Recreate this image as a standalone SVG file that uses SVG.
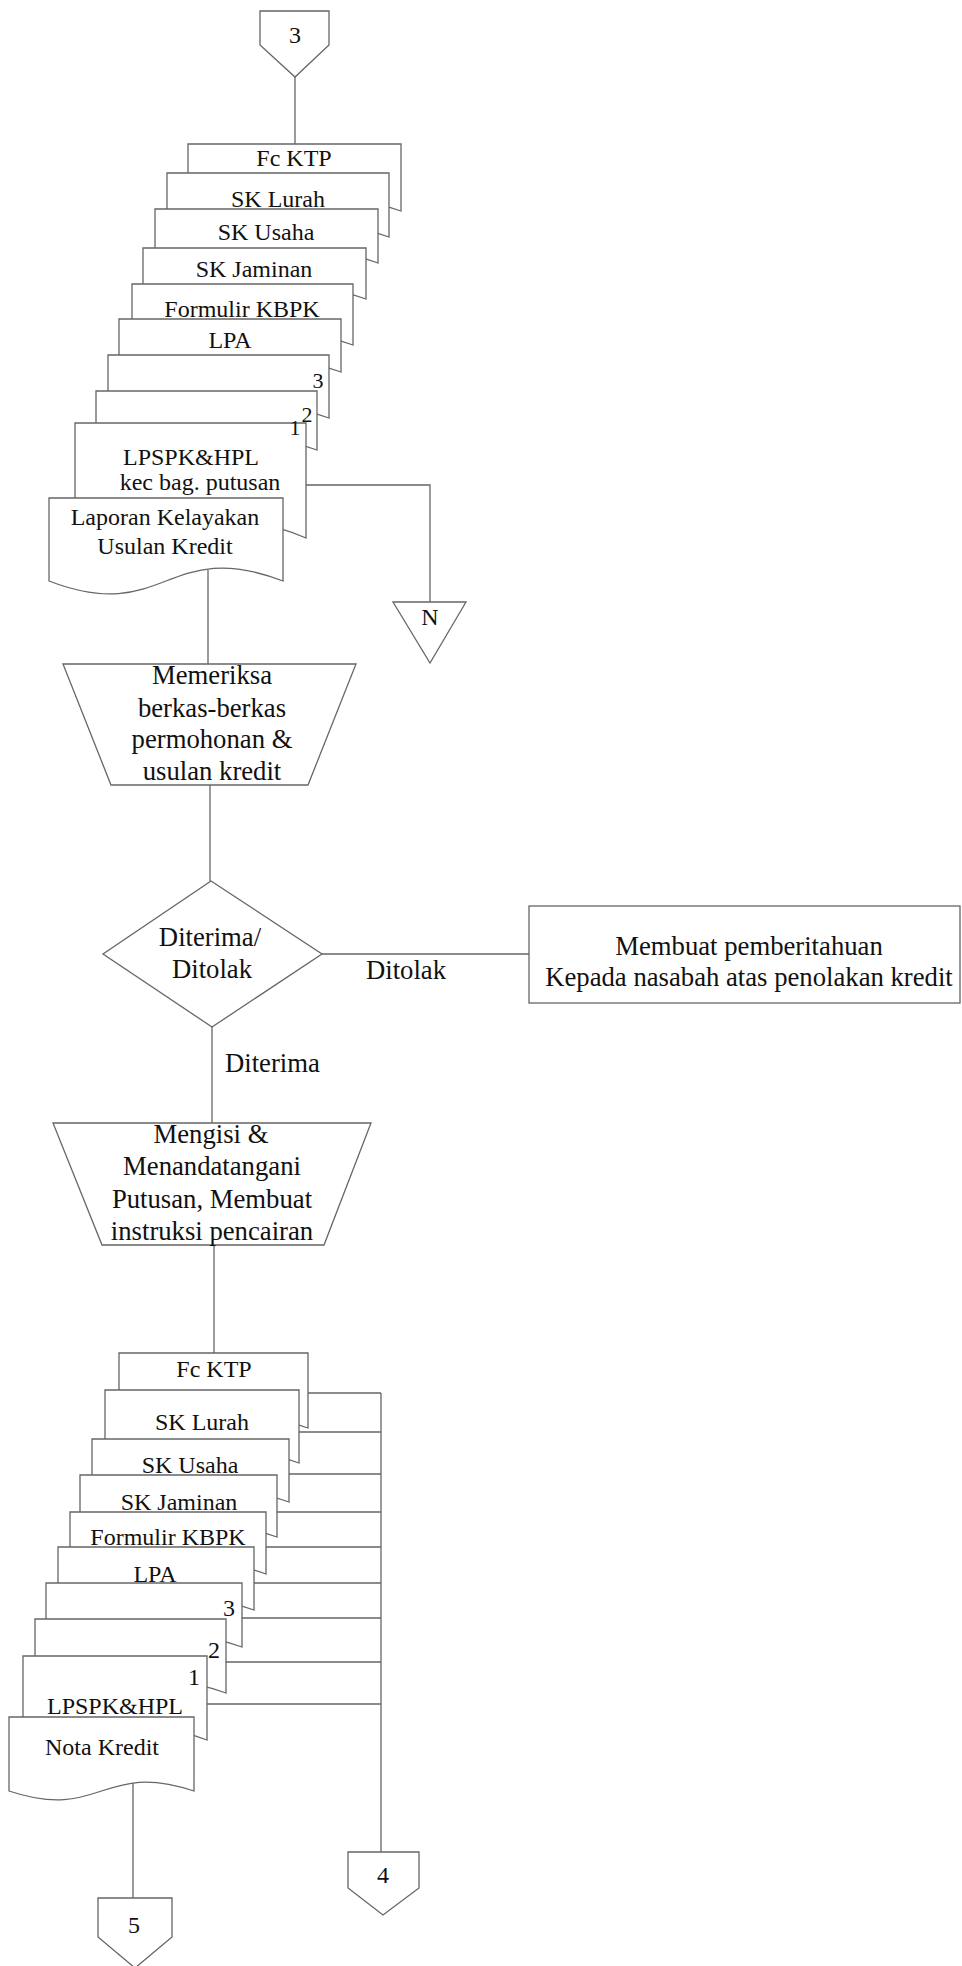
<svg xmlns="http://www.w3.org/2000/svg" width="962" height="1966" viewBox="0 0 962 1966">
<style>
.s{fill:#fff;stroke:#666;stroke-width:1.3}
.c{fill:none;stroke:#666;stroke-width:1.3}
text{font-family:"Liberation Serif","Times New Roman",serif;fill:#111;text-anchor:middle}
.d{font-size:24px}
.p{font-size:26.7px}
.n{font-size:22px}
</style>
<rect width="962" height="1966" fill="#fff"/>
<g id="connectors">
<path class="c" d="M295,77 V144"/>
<path class="c" d="M306,485 H430 V602"/>
<path class="c" d="M208,570 V664"/>
<path class="c" d="M210,785 V881"/>
<path class="c" d="M322,954 H529"/>
<path class="c" d="M212,1027 V1123"/>
<path class="c" d="M214,1245 V1353"/>
<path class="c" d="M308,1393 H381 M299,1432 H381 M289,1474 H381 M277,1512 H381 M266,1547 H381 M254,1583 H381 M242,1618 H381 M226,1662 H381 M207,1704 H381 M381,1393 V1852"/>
<path class="c" d="M133,1782 V1898"/>
<text class="p" x="406" y="979">Ditolak</text>
<text class="p" x="225" y="1072" style="text-anchor:start">Diterima</text>
</g>
<g id="conn3"><path class="s" d="M260,11 H329 V45 L295,77 L260,45 Z"/><text class="d" x="295" y="43">3</text></g>
<g id="stack1">
<g id="s1-fcktp"><path class="s" d="M188,144 H401 V211 C294.5,173 294.5,249 188,211 Z"/><text class="d" x="294" y="166">Fc KTP</text></g>
<g id="s1-sklurah"><path class="s" d="M167,173 H389 V237 C278,197 278,277 167,237 Z"/><text class="d" x="278" y="207">SK Lurah</text></g>
<g id="s1-skusaha"><path class="s" d="M155,209 H378 V263 C266.5,223 266.5,303 155,263 Z"/><text class="d" x="266" y="240">SK Usaha</text></g>
<g id="s1-skjaminan"><path class="s" d="M143,248 H366 V299 C254.5,259 254.5,339 143,299 Z"/><text class="d" x="254" y="277">SK Jaminan</text></g>
<g id="s1-formulir"><path class="s" d="M132,284 H353 V345 C242.5,305 242.5,385 132,345 Z"/><text class="d" x="242" y="317">Formulir KBPK</text></g>
<g id="s1-lpa"><path class="s" d="M119,319 H341 V372 C230,332 230,412 119,372 Z"/><text class="d" x="230" y="348">LPA</text></g>
<g id="s1-doc3"><path class="s" d="M108,355 H329 V418 C218.5,378 218.5,458 108,418 Z"/><text class="n" x="318" y="388">3</text></g>
<g id="s1-doc2"><path class="s" d="M96,391 H317 V450 C206.5,410 206.5,490 96,450 Z"/><text class="n" x="307" y="422">2</text></g>
<g id="s1-lpspk"><path class="s" d="M75,423 H306 V538 C190.5,488 190.5,588 75,538 Z"/><text class="n" x="295" y="435">1</text><text class="d" x="191" y="465">LPSPK&amp;HPL</text><text class="d" x="200" y="490">kec bag. putusan</text></g>
<g id="s1-laporan"><path class="s" d="M49,498 H283 V581 C166,536 166,626 49,581 Z"/><text class="d" x="165" y="525">Laporan Kelayakan</text><text class="d" x="165" y="554">Usulan Kredit</text></g>
</g>
<g id="connN"><path class="s" d="M393,602 H466 L430,663 Z"/><text class="d" x="430" y="625">N</text></g>
<g id="proc1"><path class="s" d="M63,664 H356 L308,785 H111 Z"/>
<text class="p" x="212" y="684">Memeriksa</text><text class="p" x="212" y="717">berkas-berkas</text><text class="p" x="212" y="748">permohonan &amp;</text><text class="p" x="212" y="780">usulan kredit</text></g>
<g id="decision"><path class="s" d="M211,881 L322,954 L212,1027 L103,954 Z"/><text class="p" x="210" y="946">Diterima/</text><text class="p" x="212" y="978">Ditolak</text></g>
<g id="reject"><rect class="s" x="529" y="906" width="431" height="97"/><text class="p" x="749" y="955">Membuat pemberitahuan</text><text class="p" x="749" y="986">Kepada nasabah atas penolakan kredit</text></g>
<g id="proc2"><path class="s" d="M53,1123 H371 L324,1245 H102 Z"/>
<text class="p" x="211" y="1143">Mengisi &amp;</text><text class="p" x="212" y="1175">Menandatangani</text><text class="p" x="212" y="1208">Putusan, Membuat</text><text class="p" x="212" y="1240">instruksi pencairan</text></g>
<g id="stack2">
<g id="s2-fcktp"><path class="s" d="M119,1353 H308 V1428 C213.5,1394 213.5,1462 119,1428 Z"/><text class="d" x="214" y="1377">Fc KTP</text></g>
<g id="s2-sklurah"><path class="s" d="M105,1390 H299 V1463 C202,1428 202,1498 105,1463 Z"/><text class="d" x="202" y="1430">SK Lurah</text></g>
<g id="s2-skusaha"><path class="s" d="M92,1439 H289 V1502 C190.5,1467 190.5,1537 92,1502 Z"/><text class="d" x="190" y="1473">SK Usaha</text></g>
<g id="s2-skjaminan"><path class="s" d="M80,1475 H277 V1537 C178.5,1502 178.5,1572 80,1537 Z"/><text class="d" x="179" y="1510">SK Jaminan</text></g>
<g id="s2-formulir"><path class="s" d="M70,1512 H266 V1574 C168,1539 168,1609 70,1574 Z"/><text class="d" x="168" y="1545">Formulir KBPK</text></g>
<g id="s2-lpa"><path class="s" d="M58,1547 H254 V1610 C156,1575 156,1645 58,1610 Z"/><text class="d" x="155" y="1582">LPA</text></g>
<g id="s2-doc3"><path class="s" d="M46,1583 H242 V1647 C144,1612 144,1682 46,1647 Z"/><text class="d" x="229" y="1616">3</text></g>
<g id="s2-doc2"><path class="s" d="M35,1619 H226 V1693 C130.5,1658 130.5,1728 35,1693 Z"/><text class="d" x="214" y="1658">2</text></g>
<g id="s2-lpspk"><path class="s" d="M23,1656 H207 V1740 C115,1705 115,1775 23,1740 Z"/><text class="d" x="194" y="1685">1</text><text class="d" x="115" y="1714">LPSPK&amp;HPL</text></g>
<g id="s2-nota"><path class="s" d="M9,1717 H194 V1791 C101.5,1760 101.5,1822 9,1791 Z"/><text class="d" x="102" y="1755">Nota Kredit</text></g>
</g>
<g id="conn4"><path class="s" d="M348,1852 H419 V1888 L383,1915 L348,1888 Z"/><text class="d" x="383" y="1883">4</text></g>
<g id="conn5"><path class="s" d="M98,1898 H172 V1937 L135,1968 L98,1937 Z"/><text class="d" x="134" y="1933">5</text></g>
</svg>
